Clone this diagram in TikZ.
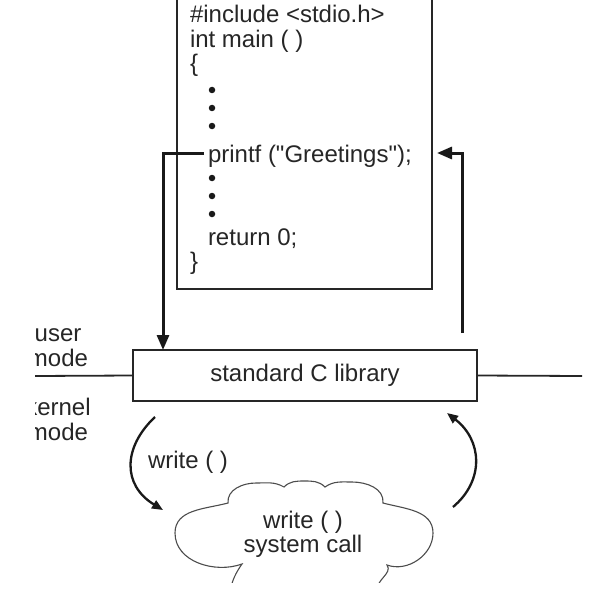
\documentclass[tikz,border=0pt]{standalone}
\usepackage{fontspec}
\setmainfont{Liberation Sans}
% same face without TeX quote ligatures, for the straight quotes in code
\newfontfamily\codefont{Liberation Sans}
\usetikzlibrary{arrows.meta}
\begin{document}
\begin{tikzpicture}[x=1pt,y=-1pt,
  txt/.style={inner sep=0pt,outer sep=0pt,text=black!85,font=\fontsize{24}{25}\selectfont},
  code/.style={txt,anchor=base west},
  thin box/.style={draw=black!85,line width=1.3pt},
  bigarrow/.style={line width=3pt,draw=black!90,-{Triangle[length=15pt,width=12pt]}},
  curvearrow/.style={line width=2.3pt,draw=black!90,-{Triangle[length=11pt,width=9pt]}},
  dot/.style={circle,fill=black!90,inner sep=0pt,minimum size=6.5pt}]
\useasboundingbox (0,0) rectangle (607,591);
\clip (35,0) rectangle (607,582);

% program text in its frame
\draw[thin box] (177,-10) -- (177,289) -- (432,289) -- (432,-10);
\node[code] (inc) at (190,23) {\#include <stdio.h>};
\node[code] (mn)  at (190,48) {int main ( )};
\node[code] (ob)  at (190,72) {\{};
\node[dot] (d1) at (212,90) {};
\node[dot] (d2) at (212,108) {};
\node[dot] (d3) at (212,126) {};
\node[code] (pf)  at (208,162) {\codefont printf ("Greetings");};
\node[dot] (d4) at (212,178) {};
\node[dot] (d5) at (212,196) {};
\node[dot] (d6) at (212,214) {};
\node[code] (ret) at (208,245) {return 0;};
\node[code] (cb)  at (190,269) {\}};

% library box on the mode boundary
\node[thin box,txt,minimum width=344pt,minimum height=51pt] (lib) at (305,375.5) {standard C library};
\coordinate (bl) at (35,376);
\coordinate (br) at (582,376);
\draw[black!85,line width=1.8pt] (bl) -- (lib.west);
\draw[black!85,line width=1.8pt] (lib.east) -- (br);

% mode labels
\node[txt,align=center] (um) at (58,348) {user\\mode};
\node[txt,align=center] (km) at (58,419) {kernel\\mode};

% call into the library and return to the program
\coordinate (pfl) at (204,153);
\coordinate (pfr) at (437,153);
\coordinate (ra) at (462,333);
\draw[bigarrow] (pfl) -| ([xshift=30pt]lib.north west);
\draw[bigarrow] (ra) |- (pfr);

% system call cloud
\draw[black!70,line width=1.1pt]
  (230,590) to[out=75,in=235] (242,564)
  to[out=200,in=270] (175,533)
  to[out=90,in=195] (228,503)
  to[out=95,in=180] (256,483)
  to[out=0,in=150] (284,487)
  to[out=45,in=180] (304,481)
  to[out=0,in=135] (325,487)
  to[out=35,in=180] (352,482)
  to[out=0,in=85] (383,503)
  to[out=-15,in=90] (433,533)
  to[out=270,in=-20] (387,565)
  to[out=-55,in=105] (378,590);
\node[txt,align=center,font=\fontsize{24}{24}\selectfont] (sc) at (303,534) {write ( )\\system call};

% trap into the kernel and back
\coordinate (t1) at (155,417);
\coordinate (t2) at (163,510);
\coordinate (r1) at (453,507);
\coordinate (r2) at (447,413);
\draw[curvearrow] (t1) .. controls (123,447) and (122,485) .. (t2);
\draw[curvearrow] (r1) .. controls (485,480) and (482,440) .. (r2);
\node[txt,anchor=base west] (wl) at (148,468) {write ( )};
\end{tikzpicture}
\end{document}
